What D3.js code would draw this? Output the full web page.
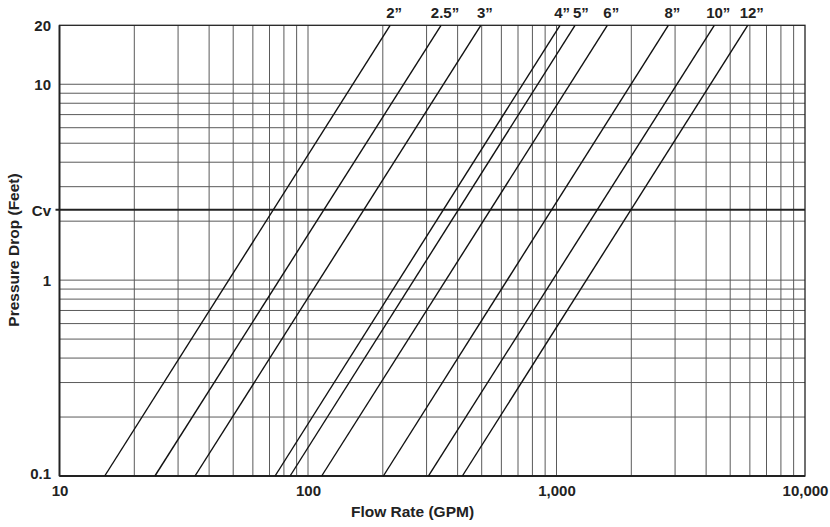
<!DOCTYPE html>
<html>
<head>
<meta charset="utf-8">
<script src="https://cdn.jsdelivr.net/npm/d3@7"></script>
<style>
  html, body { margin: 0; padding: 0; background: #fff; }
  svg { display: block; }
  text { font-family: "Liberation Sans", Arial, sans-serif; font-weight: bold; fill: #222; }
</style>
</head>
<body>
<svg id="chart" width="830" height="527"></svg>
<script>
// ---- data ----
const sizes = ["2\u201D", "2.5\u201D", "3\u201D", "4\u201D", "5\u201D", "6\u201D", "8\u201D", "10\u201D", "12\u201D"];
// flow rate (GPM) where each line meets the bottom edge (0.1 ft) and top edge (20 ft)
const flowAtBottom = [15.2, 24.2, 35.1, 73.7, 84.7, 113.5, 201, 305, 418];
const flowAtTop    = [214, 343, 496, 1033, 1187, 1601, 2818, 4315, 5882];
const pressureBottom = 0.1;
const pressureTop = 20;
const cvPressure = 2.29;   // Cv reference line (1 psi ≈ 2.3 ft)

const xTickValues = [10, 100, 1000, 10000];
const xTickLabels = ["10", "100", "1,000", "10,000"];
const yTickValues = [0.1, 1, cvPressure, 10, 20];
const yTickLabels = ["0.1", "1", "Cv", "10", "20"];

const xGrid = [20,30,40,50,60,70,80,90,100,200,300,400,500,600,700,800,900,1000,2000,3000,4000,5000,6000,7000,8000,9000];
const yGrid = [0.2,0.3,0.4,0.5,0.6,0.7,0.8,0.9,1,2,3,4,5,6,7,8,9,10];

// ---- layout ----
const svg = d3.select("#chart");
const x = d3.scaleLog().domain([10, 10000]).range([59.5, 805]);
const y = d3.scaleLog().domain([0.1, 20]).range([476, 25.3]);
const [x0, x1] = x.range();
const [yb, yt] = y.range();

// grid
const grid = svg.append("g");
grid.selectAll("line.v").data(xGrid).join("line")
  .attr("x1", d => x(d)).attr("x2", d => x(d))
  .attr("y1", yb).attr("y2", yt)
  .attr("stroke", "#5a5a5a").attr("stroke-width", 1);
grid.selectAll("line.h").data(yGrid).join("line")
  .attr("x1", x0).attr("x2", x1)
  .attr("y1", d => y(d)).attr("y2", d => y(d))
  .attr("stroke", "#5a5a5a").attr("stroke-width", 1);

// Cv line
svg.append("line")
  .attr("x1", x0 - 4).attr("x2", x1)
  .attr("y1", y(cvPressure)).attr("y2", y(cvPressure))
  .attr("stroke", "#222").attr("stroke-width", 2);

// frame
svg.append("rect")
  .attr("x", x0).attr("y", yt).attr("width", x1 - x0).attr("height", yb - yt)
  .attr("fill", "none").attr("stroke", "#222").attr("stroke-width", 1.3);
svg.append("line").attr("x1", x0).attr("x2", x1).attr("y1", yb).attr("y2", yb)
  .attr("stroke", "#222").attr("stroke-width", 2);
svg.append("line").attr("x1", x0).attr("x2", x0).attr("y1", yt).attr("y2", yb)
  .attr("stroke", "#222").attr("stroke-width", 1.8);

// size lines
const lineData = sizes.map((s, i) => ({
  size: s,
  pts: [[flowAtBottom[i], pressureBottom], [flowAtTop[i], pressureTop]]
}));
const lineGen = d3.line().x(d => x(d[0])).y(d => y(d[1]));
svg.append("g").selectAll("path").data(lineData).join("path")
  .attr("d", d => lineGen(d.pts))
  .attr("fill", "none").attr("stroke", "#111").attr("stroke-width", 1.4);

// size labels at top: centred a little right of the line end, pushed apart if they collide
const labels = svg.append("g").selectAll("text").data(lineData).join("text")
  .attr("y", 17.5)
  .style("font-size", "15px")
  .attr("text-anchor", "middle")
  .text(d => d.size);
const boxes = [];
labels.each(function(d) {
  boxes.push({ c: x(d.pts[1][0]) + 4, w: this.getComputedTextLength() });
});
const minGap = 3;
for (let iter = 0; iter < 5; iter++) {
  for (let i = 1; i < boxes.length; i++) {
    const a = boxes[i - 1], b = boxes[i];
    const gap = (b.c - b.w / 2) - (a.c + a.w / 2);
    if (gap < minGap) { const s = (minGap - gap) / 2; a.c -= s; b.c += s; }
  }
}
labels.attr("x", (d, i) => boxes[i].c);

// axes
const xAxis = d3.axisBottom(x).tickValues(xTickValues)
  .tickFormat((d, i) => xTickLabels[i]).tickSize(0).tickPadding(0);
const gx = svg.append("g").attr("transform", `translate(0,${yb})`).call(xAxis);
gx.select(".domain").remove();
gx.selectAll("text").attr("dy", null).attr("y", 20).style("font-size", "15px")
  .attr("font-family", null).attr("fill", null);

const yAxis = d3.axisLeft(y).tickValues(yTickValues)
  .tickFormat((d, i) => yTickLabels[i]).tickSize(0).tickPadding(0);
const gy = svg.append("g").attr("transform", `translate(51,0)`).call(yAxis);
gy.select(".domain").remove();
gy.selectAll("text").attr("x", 0).attr("dy", "0.36em").style("font-size", "15px")
  .attr("font-family", null).attr("fill", null);
gy.selectAll(".tick").filter(d => d === 0.1).select("text").attr("dy", "0.18em");

// titles
svg.append("text").attr("x", 412.5).attr("y", 516.5).attr("text-anchor", "middle")
  .style("font-size", "15.5px").text("Flow Rate (GPM)");
svg.append("text").attr("transform", "translate(19,250) rotate(-90)").attr("text-anchor", "middle")
  .style("font-size", "15.5px").text("Pressure Drop (Feet)");
</script>
</body>
</html>
